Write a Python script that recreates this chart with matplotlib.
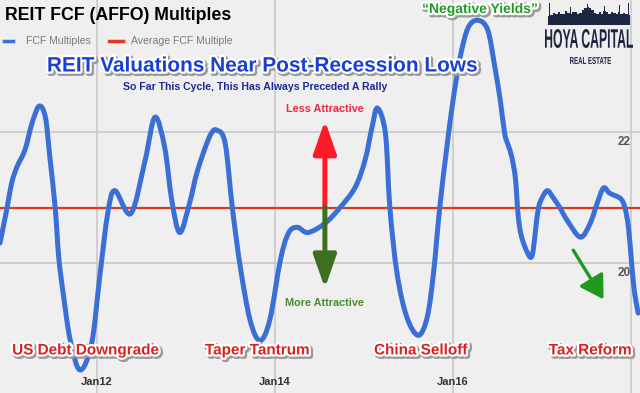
import numpy as np
import matplotlib
matplotlib.use('Agg')
import matplotlib.pyplot as plt
import matplotlib.patheffects as pe
from matplotlib.path import Path
from matplotlib.patches import PathPatch
from matplotlib.textpath import TextPath
from matplotlib.font_manager import FontProperties
from matplotlib.transforms import Affine2D, IdentityTransform

# FCF (AFFO) multiple (decimal year, multiple)
godine = [2010.91, 2010.99, 2011.04, 2011.10, 2011.19, 2011.27, 2011.35, 2011.42, 2011.47,
          2011.53, 2011.57, 2011.62, 2011.70,
          2011.81, 2011.94, 2012.03, 2012.12, 2012.20, 2012.38, 2012.54, 2012.65, 2012.76,
          2012.84, 2012.93, 2013.04, 2013.13, 2013.27, 2013.35, 2013.44, 2013.52, 2013.61,
          2013.72, 2013.83, 2013.94, 2014.06, 2014.15, 2014.25, 2014.37, 2014.56, 2014.73,
          2014.90, 2015.01, 2015.09, 2015.15, 2015.24, 2015.29, 2015.37, 2015.48, 2015.61,
          2015.71, 2015.78, 2015.85, 2015.93, 2016.00, 2016.08, 2016.17, 2016.28, 2016.39,
          2016.47, 2016.53, 2016.58, 2016.62, 2016.66, 2016.70, 2016.73, 2016.76, 2016.81,
          2016.87, 2016.90, 2016.93, 2016.96, 2017.00, 2017.06, 2017.12, 2017.20, 2017.28,
          2017.43, 2017.54, 2017.62, 2017.69,
          2017.76, 2017.88, 2017.93, 2017.97, 2018.01, 2018.04, 2018.08]
multipli = [20.31, 20.85, 21.22, 21.47, 21.73, 22.14, 22.40, 22.23, 21.62,
            20.85, 20.09, 19.54, 18.82,
            18.37, 18.78, 19.79, 20.76, 21.11, 20.76, 21.57, 22.23, 21.77,
            20.96, 20.47, 20.92, 21.42, 21.95, 22.03, 21.83, 20.85, 19.94,
            19.13, 18.82, 19.13, 20.05, 20.46, 20.55, 20.47, 20.61, 20.85,
            21.16, 21.57, 22.08, 22.37, 21.98, 20.85, 19.85, 19.18, 18.90,
            19.18, 19.85, 20.85, 21.77, 22.49, 23.15, 23.60, 23.71, 23.56,
            22.99, 22.49, 21.98, 21.80, 21.62, 21.30, 20.75, 20.46, 20.24,
            20.09, 20.20, 20.55, 20.85, 21.00, 21.11, 21.01, 20.85, 20.66,
            20.40, 20.61, 20.92, 21.15,
            21.07, 20.99, 20.85, 20.55, 19.94, 19.54, 19.24]
prosek = 20.85

x_tikovi = [2012, 2014, 2016, 2018]
x_oznake = ['Jan12', 'Jan14', 'Jan16', '']
y_tikovi = [20, 22]

dogadjaji = ['US Debt Downgrade', 'Taper Tantrum', 'China Selloff', 'Tax Reform']
dogadjaji_x = [2011.87, 2013.80, 2015.64, 2017.54]

# visine zgrada i tornjeva za logo (skyline)
zgrade = [0.40, 0.45, 0.55, 0.50, 0.60, 0.48, 0.52, 0.62, 0.55, 0.50, 0.58, 0.60, 0.50,
          0.55, 0.68, 0.78, 0.82, 0.78, 0.66, 0.55, 0.52, 0.60, 0.50, 0.62, 0.58, 0.52,
          0.60, 0.55, 0.50, 0.60, 0.48, 0.55, 0.50, 0.45]
tornjevi = [1.00, 0.0, 0.0, 0.0, 0.0, 0.0, 0.0, 0.0, 0.0, 0.80, 0.0, 0.0, 0.0, 0.0, 0.0,
            0.0, 0.97, 0.0, 0.0, 0.0, 0.0, 0.0, 0.0, 0.85, 0.0, 0.0, 0.0, 0.0, 0.0, 0.90,
            0.0, 0.0, 0.0, 1.00]

BG = '#efefef'
W, H = 640, 393
plt.rcParams['font.family'] = ['Liberation Sans', 'DejaVu Sans']

fig = plt.figure(figsize=(6.4, 3.93), dpi=100, facecolor=BG)
ax = fig.add_axes([0, 0, 1, 1], facecolor=BG)

ax.set_xlim(2010.91, 2018.10)
ax.set_ylim(18.02, 24.02)
for s in ax.spines.values():
    s.set_visible(False)
ax.set_xticks(x_tikovi)
ax.set_yticks(y_tikovi)
ax.tick_params(length=0, labelbottom=False, labelleft=False)
ax.grid(True, color='#c6c6c6', lw=1.1)

ax.axhline(prosek, color='#e2381f', lw=1.6, zorder=3)


def glatka_putanja(xs, ys):
    # spline kao u originalnom grafikonu (Catmull-Rom -> Bezier)
    p = np.column_stack([xs, ys])
    p = np.vstack([p[0], p, p[-1]])
    verts = [p[1]]
    codes = [Path.MOVETO]
    for i in range(1, len(p) - 2):
        c1 = p[i] + (p[i + 1] - p[i - 1]) / 6
        c2 = p[i + 1] - (p[i + 2] - p[i]) / 6
        verts += [c1, c2, p[i + 1]]
        codes += [Path.CURVE4] * 3
    return Path(verts, codes)


ax.add_patch(PathPatch(glatka_putanja(godine, multipli), fill=False, edgecolor='#3a6fd6',
                       lw=3.6, capstyle='round', joinstyle='round', zorder=4))

# oznake osa unutar grafika
xt = ax.get_xaxis_transform()
for xv, lab in zip(x_tikovi, x_oznake):
    ax.text(xv, 0.028, lab, transform=xt, ha='center', va='center', fontsize=8,
            fontweight='bold', color='#333333')
yt = ax.get_yaxis_transform()
for yv in y_tikovi:
    ax.text(0.985, yv - 0.06, str(yv), transform=yt, ha='right', va='top', fontsize=8.5,
            fontweight='bold', color='#555555')

oreol = [pe.Stroke(linewidth=4, foreground='#9a9a9a', offset=(1.2, -1.2)),
         pe.Stroke(linewidth=3.2, foreground='white'), pe.Normal()]

T = ax.transAxes


def fx(px):
    return px / W


def fy(py):
    return 1 - py / H


# naslov i legenda
ax.text(fx(5), fy(15), 'REIT FCF (AFFO) Multiples', transform=T, fontsize=12.8,
        fontweight='bold', color='black', va='center', ha='left')
ax.plot([fx(4), fx(13)], [fy(41), fy(41)], transform=T, color='#3a6fd6', lw=2.5)
ax.text(fx(26), fy(41), 'FCF Multiples', transform=T, fontsize=7.6, color='#7a7a7a',
        va='center')
ax.plot([fx(109), fx(123)], [fy(41), fy(41)], transform=T, color='#e2381f', lw=2.5)
ax.text(fx(131), fy(41), 'Average FCF Multiple', transform=T, fontsize=7.6, color='#7a7a7a',
        va='center')

ax.text(fx(263), fy(66), 'REIT Valuations Near Post-Recession Lows', transform=T,
        fontsize=15, fontweight='bold', color='#1a3fd4', ha='center', va='center',
        path_effects=oreol, zorder=6)
ax.text(fx(255), fy(87), 'So Far This Cycle, This Has Always Preceded A Rally', transform=T,
        fontsize=7.6, fontweight='bold', color='#1c2b95', ha='center', va='center', zorder=6)

# strelice atraktivnosti
xs = 2014.56
ax.annotate('', xy=(xs, 22.18), xytext=(xs, prosek),
            arrowprops=dict(arrowstyle='-|>,head_length=1.0,head_width=0.35',
                            mutation_scale=20, color='#ff1a2a', lw=3.6,
                            shrinkA=0, shrinkB=0), zorder=5)
ax.annotate('', xy=(xs, 19.62), xytext=(xs, prosek),
            arrowprops=dict(arrowstyle='-|>,head_length=1.0,head_width=0.35',
                            mutation_scale=20, color='#3d6e22', lw=3.6,
                            shrinkA=0, shrinkB=0), zorder=5)
ax.text(xs, 22.35, 'Less Attractive', fontsize=7.8, fontweight='bold', color='#f2263e',
        ha='center', va='center')
ax.text(xs, 19.40, 'More Attractive', fontsize=7.8, fontweight='bold', color='#4e8a33',
        ha='center', va='center')

ax.text(fx(480), fy(9), '\u201cNegative Yields\u201d', transform=T, fontsize=10,
        fontweight='bold', color='#1f9c1f', ha='center', va='center', path_effects=oreol,
        zorder=6)

# dogadjaji
for xv, lab in zip(dogadjaji_x, dogadjaji):
    ax.text(xv, 18.67, lab, fontsize=11, fontweight='bold', color='#d9221e',
            ha='center', va='center', path_effects=oreol, zorder=6)

# zelena strelica dole desno
ax.annotate('', xy=(2017.69, 19.45), xytext=(2017.35, 20.20),
            arrowprops=dict(arrowstyle='-|>,head_length=0.7,head_width=0.42',
                            mutation_scale=20, color='#1f9a1f', lw=2.4,
                            shrinkA=0, shrinkB=0), zorder=5)

# logo
NAVY = '#1c2541'
lax = fig.add_axes([fx(548), fy(25), 82 / W, 22 / H])
ind = np.arange(len(zgrade))
lax.axhspan(0, 0.3, color=NAVY, lw=0)
lax.bar(ind, zgrade, width=1.0, color=NAVY)
lax.bar(ind, tornjevi, width=0.35, color=NAVY)
lax.set_xlim(-0.5, len(zgrade) - 0.5)
lax.set_ylim(0, 1)
lax.axis('off')


def tekst_u_kutiju(s, x0, y0, x1, y1, boja):
    # tekst skaliran u zadati pravougaonik (uzan font kao u logou)
    tp = TextPath((0, 0), s, size=20, prop=FontProperties(family='Liberation Sans',
                                                         weight='bold'))
    bb = tp.get_extents()
    tr = (Affine2D().translate(-bb.x0, -bb.y0)
          .scale((x1 - x0) / bb.width, (y1 - y0) / bb.height)
          .translate(x0, H - y1))
    fig.add_artist(PathPatch(tr.transform_path(tp), facecolor=boja, lw=0,
                             transform=IdentityTransform()))


tekst_u_kutiju('HOYA CAPITAL', 545, 29, 633, 48, NAVY)
tekst_u_kutiju('REAL ESTATE', 570, 57, 611, 64, NAVY)

fig.savefig('out.png', dpi=100, facecolor=BG)
